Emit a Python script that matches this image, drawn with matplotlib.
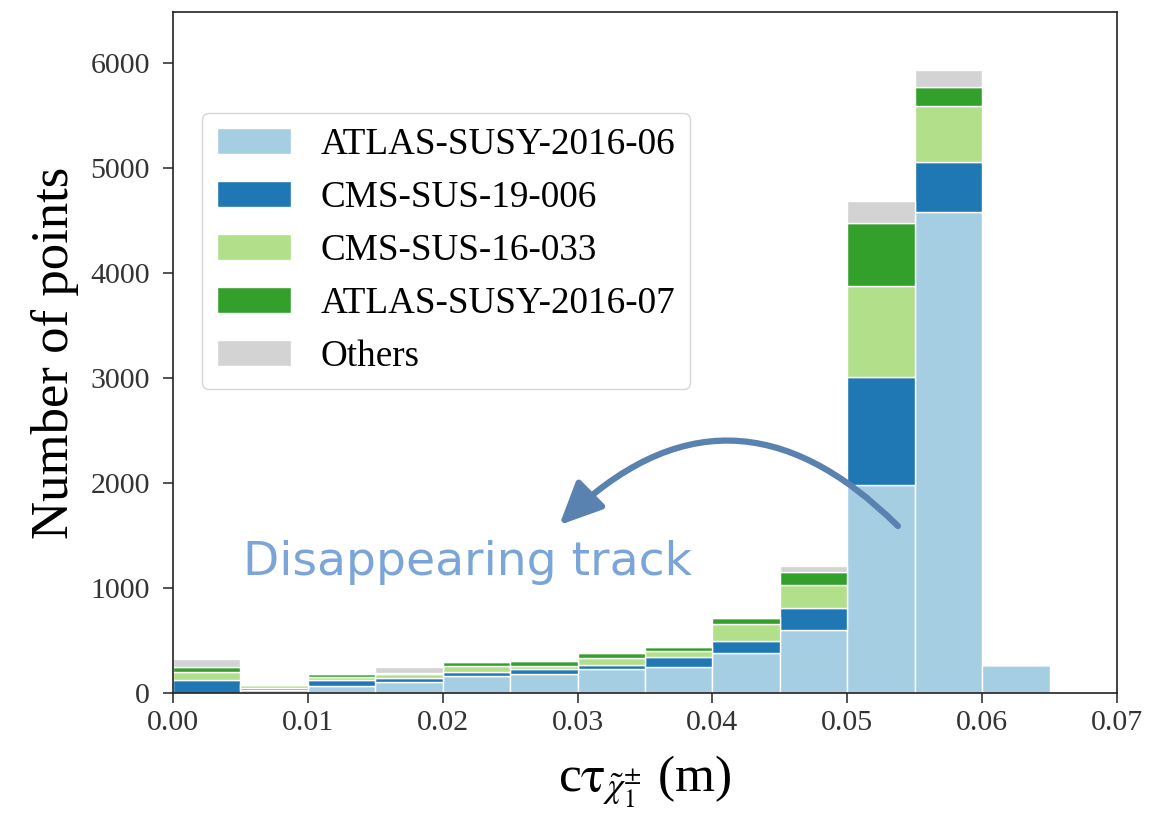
import numpy as np
import matplotlib
matplotlib.use('Agg')
import matplotlib.pyplot as plt
from matplotlib.patches import FancyArrowPatch

plt.rcParams['font.family'] = ['Liberation Serif', 'DejaVu Serif']
plt.rcParams['mathtext.fontset'] = 'stix'

# ----- histogram contents (bins of 0.005 m) -------

bin_edges = np.arange(0.0, 0.0651, 0.005)[:-1]
bin_width = 0.005

labels = ['ATLAS-SUSY-2016-06', 'CMS-SUS-19-006', 'CMS-SUS-16-033',
          'ATLAS-SUSY-2016-07', 'Others']
colors = ['#a6cee3', '#1f78b4', '#b2df8a', '#33a02c', '#d3d3d3']

atlas_16_06 = [3, 25, 67, 100, 165, 184, 226, 248, 384, 600, 1985, 4585, 262]
cms_19_006 = [121, 20, 57, 45, 38, 42, 37, 92, 114, 212, 1020, 476, 0]
cms_16_033 = [80, 30, 30, 40, 54, 34, 73, 62, 159, 217, 870, 533, 0]
atlas_16_07 = [40, 5, 25, 8, 42, 40, 42, 38, 60, 121, 597, 175, 0]
others = [75, 3, 8, 50, 5, 5, 5, 5, 5, 60, 213, 165, 0]

series = [atlas_16_06, cms_19_006, cms_16_033, atlas_16_07, others]

# ----- plotting -------

fig = plt.figure(figsize=(11.65, 8.22), dpi=100)
ax = fig.add_axes([0.1485, 0.157, 0.8103, 0.8285])

bottom = np.zeros(len(bin_edges))
for vals, lab, col in zip(series, labels, colors):
    vals = np.array(vals, dtype=float)
    ax.bar(bin_edges, vals, width=bin_width, bottom=bottom, align='edge',
           color=col, edgecolor='white', linewidth=1.0, label=lab)
    bottom += vals

ax.set_xlim(0, 0.07)
ax.set_ylim(0, 6486)
ax.set_xticks(np.arange(0, 0.0701, 0.01))
ax.set_xticklabels(['%.2f' % t for t in np.arange(0, 0.0701, 0.01)])
ax.set_yticks(np.arange(0, 6001, 1000))
ax.tick_params(labelsize=21.5, length=7.5, width=1.2, colors='#333333',
               labelcolor='#333333')
ax.tick_params(axis='y', pad=9)
ax.tick_params(axis='x', pad=5)
for sp in ax.spines.values():
    sp.set_linewidth(1.2)
    sp.set_color('#222222')

ax.set_ylabel('Number of points', fontsize=38, labelpad=8)
ax.set_xlabel(r'c$\mathrm{\tau}_{\tilde{\chi}_1^{\pm}}$ (m)', fontsize=37,
              labelpad=12)

leg = ax.legend(loc='upper left', bbox_to_anchor=(0.0307, 0.8517),
                borderaxespad=0, fontsize=26.7, frameon=True, fancybox=True)
leg.get_frame().set_edgecolor('#cccccc')

# disappearing track callout
ax.text(0.0052, 1124, 'Disappearing track', fontsize=34, color='#7ba4d8',
        family=['DejaVu Sans'], fontweight='normal',
        va='baseline', ha='left')
arrow = FancyArrowPatch((0.0539, 1571), (0.0285, 1580),
                        connectionstyle='arc3,rad=0.5',
                        arrowstyle='-|>,head_length=1.3,head_width=0.6',
                        mutation_scale=20, color='#5a82b0', lw=4.5)
ax.add_patch(arrow)

plt.savefig('out.png', dpi=100)
plt.close()
